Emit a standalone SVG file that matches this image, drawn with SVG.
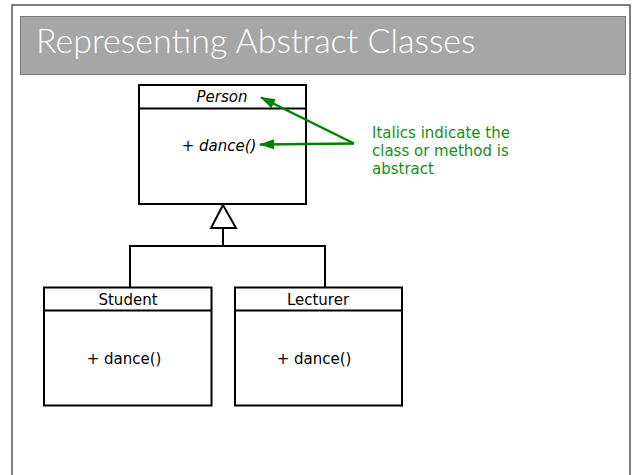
<svg xmlns="http://www.w3.org/2000/svg" width="641" height="475" viewBox="0 0 641 475">
<style>
.box{fill:#fff;stroke:#000;stroke-width:2}
.ln{fill:none;stroke:#000;stroke-width:2}
.t{font-family:"DejaVu Sans",sans-serif;font-size:15px;fill:#000;text-anchor:middle}
.i{font-style:italic}
.g{font-family:"DejaVu Sans",sans-serif;font-size:15px;fill:#1a8c1a}
.ga{fill:none;stroke:#008000;stroke-width:2.5}
</style>
<defs>
<marker id="ah" viewBox="0 0 15 10" refX="14" refY="5" markerWidth="15" markerHeight="10" markerUnits="userSpaceOnUse" orient="auto" overflow="visible">
<path d="M0,0 L15,5 L0,10 Z" fill="#008000"/>
</marker>
</defs>
<rect x="0" y="0" width="641" height="475" fill="#fff"/>
<path d="M12,480 L12,5 L630,5 L630,480" fill="none" stroke="#555" stroke-width="1.5"/>
<rect x="20.5" y="16.5" width="605" height="58" fill="#a6a6a6" stroke="#7a7a7a" stroke-width="1"/>
<text x="36" y="53" font-family="Lato, 'DejaVu Sans', sans-serif" font-weight="300" font-size="34" fill="#fff">Representing Abstract Classes</text>
<g id="connectors">
<polyline class="ln" points="223,228 223,246"/>
<polyline class="ln" points="130,287 130,246 325,246 325,287"/>
<polygon points="223,205 211,228 236,228" fill="#fff" stroke="#000" stroke-width="2"/>
</g>
<g id="person">
<rect class="box" x="139" y="85" width="167" height="119"/>
<line class="ln" x1="139" y1="108.5" x2="306" y2="108.5"/>
<text class="t i" x="222" y="102">Person</text>
<text class="t i" x="219" y="151">+ dance()</text>
</g>
<g id="student">
<rect class="box" x="44" y="287.5" width="167.5" height="118"/>
<line class="ln" x1="44" y1="310.5" x2="211.5" y2="310.5"/>
<text class="t" x="128" y="305">Student</text>
<text class="t" x="124" y="364">+ dance()</text>
</g>
<g id="lecturer">
<rect class="box" x="235" y="287.5" width="167" height="118"/>
<line class="ln" x1="235" y1="310.5" x2="402" y2="310.5"/>
<text class="t" x="318" y="305">Lecturer</text>
<text class="t" x="314" y="364">+ dance()</text>
</g>
<g id="note-arrows">
<line class="ga" x1="354" y1="143.5" x2="261" y2="97.5" marker-end="url(#ah)"/>
<line class="ga" x1="354" y1="143.5" x2="260" y2="144.5" marker-end="url(#ah)"/>
</g>
<g id="note">
<text class="g" x="372" y="138">Italics indicate the</text>
<text class="g" x="372" y="156">class or method is</text>
<text class="g" x="372" y="174">abstract</text>
</g>
</svg>
